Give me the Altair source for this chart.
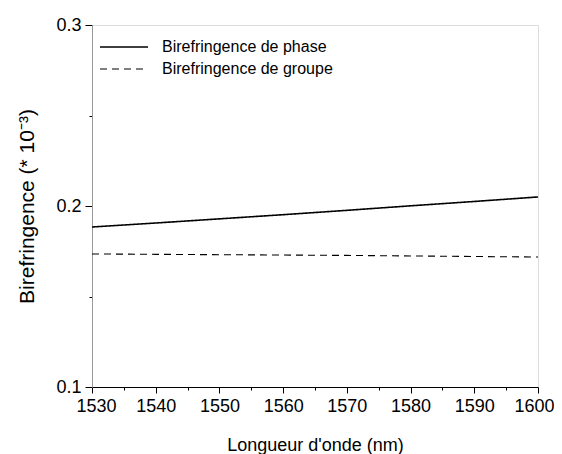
import altair as alt
import pandas as pd

wavelength = [1530, 1540, 1550, 1560, 1570, 1580, 1590, 1600]
phase = [0.1884, 0.1906, 0.1929, 0.1952, 0.1976, 0.2001, 0.2025, 0.2050]
groupe = [0.1735, 0.1733, 0.1731, 0.1729, 0.1727, 0.1724, 0.1721, 0.1718]
series_names = ["Birefringence de phase", "Birefringence de groupe"]

rows = []
for w, p, g in zip(wavelength, phase, groupe):
    rows.append({"w": w, "v": p, "s": series_names[0]})
    rows.append({"w": w, "v": g, "s": series_names[1]})
df = pd.DataFrame(rows)

x_ticks = list(range(1530, 1601, 5))
y_ticks = [0.1, 0.15, 0.2, 0.25, 0.3]

FONT = "Liberation Sans"

chart = alt.Chart(df).mark_line(color="black", clip=True).encode(
    x=alt.X("w:Q", scale=alt.Scale(domain=[1530, 1600], nice=False, zero=False),
            axis=alt.Axis(title="Longueur d'onde (nm)", values=x_ticks, format="d",
                          labelExpr="datum.value % 10 === 0 ? datum.label : ''",
                          tickSize={"condition": {"test": "datum.value % 10 === 0", "value": 6}, "value": 3},
                          grid=False, domainColor="black", tickColor="black",
                          labelFont=FONT, labelFontSize=18, labelColor="black", labelPadding=4,
                          labelFlush=True, labelFlushOffset=16, labelOverlap=False,
                          titleFont=FONT, titleFontSize=18, titleFontWeight="normal",
                          titleColor="black", titlePadding=21)),
    y=alt.Y("v:Q", scale=alt.Scale(domain=[0.1, 0.3], nice=False, zero=False),
            axis=alt.Axis(title="Birefringence (* 10⁻³)", values=y_ticks,
                          labelExpr="(round(datum.value*100) % 10 === 0) ? format(datum.value, '.1f') : ''",
                          tickSize={"condition": {"test": "round(datum.value*100) % 10 === 0", "value": 7}, "value": 3},
                          grid=False, domainColor="#999999", tickColor="black",
                          labelFont=FONT, labelFontSize=18, labelColor="black", labelPadding=4,
                          labelFlush=False, labelOverlap=False,
                          titleFont=FONT, titleFontSize=21, titleFontWeight="normal",
                          titleColor="black", titlePadding=18)),
    strokeDash=alt.StrokeDash("s:N",
        scale=alt.Scale(domain=series_names, range=[[1, 0], [7, 5]]),
        legend=alt.Legend(title=None, orient="none", legendX=24, legendY=14,
                          symbolType="M-4,0H4", symbolSize=144, symbolStrokeWidth=1.5,
                          symbolStrokeColor="black", symbolFillColor="transparent",
                          labelFont=FONT, labelFontSize=16,
                          labelColor="black", labelOffset=30, labelLimit=400,
                          rowPadding=6)),
    strokeWidth=alt.StrokeWidth("s:N", scale=alt.Scale(domain=series_names, range=[1.6, 1.1]), legend=None),
).properties(
    width=446, height=362,
    autosize=alt.AutoSizeParams(type="none"),
    padding={"left": 84, "top": 17, "right": 16, "bottom": 70},
).configure_view(stroke="black", strokeWidth=1.2).configure(background="white")

chart.save("out.html", embed_options={"renderer": "svg", "actions": False})
